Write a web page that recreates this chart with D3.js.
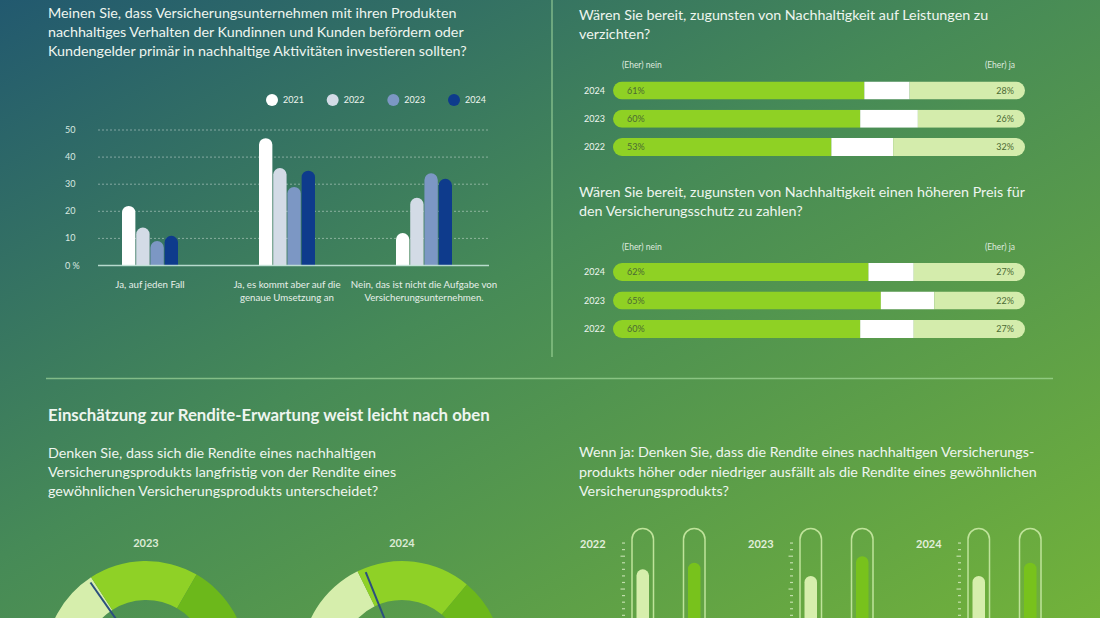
<!DOCTYPE html>
<html><head><meta charset="utf-8">
<script src="https://cdn.jsdelivr.net/npm/d3@7"></script>
<style>html,body{margin:0;padding:0;background:#3d7d5e;}svg{display:block;}</style>
</head><body>
<svg id="chart" width="1100" height="618"></svg>
<script>
// ---------- DATA ----------
const barCategories = [["Ja, auf jeden Fall"], ["Ja, es kommt aber auf die", "genaue Umsetzung an"], ["Nein, das ist nicht die Aufgabe von", "Versicherungsunternehmen."]];
const barYears = ["2021", "2022", "2023", "2024"];
const values2021 = [22, 47, 12];
const values2022 = [14, 36, 25];
const values2023 = [9, 29, 34];
const values2024 = [11, 35, 32];
const barYTicks = [0, 10, 20, 30, 40, 50];
const barColors = ["#ffffff", "#d3dbe6", "#7c97c4", "#0e3b8c"];

const stackYears = ["2024", "2023", "2022"];
const leistungNein = [61, 60, 53];
const leistungJa = [28, 26, 32];
const preisNein = [62, 65, 60];
const preisJa = [27, 22, 27];

const gaugeYears = ["2023", "2024"];
const gaugePale = [31.7, 35.5];
const gaugeBright = [35.0, 36.7];
const gaugeDark = [33.3, 27.8];
const gaugeNeedle = [30.6, 37.8];

const thermoYears = ["2022", "2023", "2024"];
const thermoPale = [38, 37, 37];
const thermoGreen = [39, 40, 39];

// ---------- SETUP ----------
const svg = d3.select("#chart");
const FONT = "Lato, 'Open Sans', sans-serif";
const BODY = 14.3;
const defs = svg.append("defs");
const bg = defs.append("linearGradient").attr("id", "bg").attr("x1", 0).attr("y1", 0).attr("x2", 1).attr("y2", 1);
bg.append("stop").attr("offset", "0%").attr("stop-color", "#22596f");
bg.append("stop").attr("offset", "45%").attr("stop-color", "#468a57");
bg.append("stop").attr("offset", "100%").attr("stop-color", "#72b23a");
svg.append("rect").attr("width", 1100).attr("height", 618).attr("fill", "url(#bg)");

const textCol = "#eef5ef";
function lines(g, arr, x, y0, lh, size, weight, anchor) {
  arr.forEach((t, i) => g.append("text").attr("x", x).attr("y", y0 + i * lh)
    .attr("font-family", FONT).attr("font-size", size).attr("font-weight", weight || 400)
    .attr("fill", textCol).attr("text-anchor", anchor || "start").text(t));
}

// separators
const sepCol = "rgba(175,228,165,0.6)";
svg.append("line").attr("x1", 552).attr("x2", 552).attr("y1", 0).attr("y2", 357).attr("stroke", sepCol).attr("stroke-width", 1.5);
svg.append("line").attr("x1", 46).attr("x2", 1053).attr("y1", 378.5).attr("y2", 378.5).attr("stroke", sepCol).attr("stroke-width", 1.5);

// ---------- TOP LEFT: grouped bars ----------
const gBar = svg.append("g");
lines(gBar, ["Meinen Sie, dass Versicherungsunternehmen mit ihren Produkten",
  "nachhaltiges Verhalten der Kundinnen und Kunden befördern oder",
  "Kundengelder primär in nachhaltige Aktivitäten investieren sollten?"], 48, 18, 19, BODY);

const legendX = d3.scalePoint().domain(barYears).range([272, 454]);
barYears.forEach((y, i) => {
  gBar.append("circle").attr("cx", legendX(y)).attr("cy", 100).attr("r", 6).attr("fill", barColors[i]);
  gBar.append("text").attr("x", legendX(y) + 11).attr("y", 103).attr("font-family", FONT).attr("font-size", 9)
    .attr("fill", textCol).text(y);
});

const yBar = d3.scaleLinear().domain([0, 50]).range([265.5, 130]);
barYTicks.forEach(t => {
  if (t > 0) gBar.append("line").attr("x1", 98).attr("x2", 489).attr("y1", yBar(t)).attr("y2", yBar(t))
    .attr("stroke", "rgba(255,255,255,0.4)").attr("stroke-dasharray", "2,2").attr("stroke-width", 1);
  gBar.append("text").attr("x", 65).attr("y", yBar(t) + 3).attr("font-family", FONT).attr("font-size", 9)
    .attr("fill", "#d9e8e0").text(t === 0 ? "0 %" : t);
});

const x0 = d3.scaleBand().domain(d3.range(barCategories.length)).range([81.5, 492.5]);
const x1 = d3.scaleBand().domain(barYears).range([0, 56]).paddingInner(0.06);
const seriesVals = [values2021, values2022, values2023, values2024];
function roundTopBar(x, w, yTop, yBase) {
  const r = w / 2;
  const top = Math.min(yTop + r, yBase);
  return `M${x},${yBase}V${top}A${r},${r} 0 0 1 ${x + w},${top}V${yBase}Z`;
}
barCategories.forEach((cat, ci) => {
  const cx = x0(ci) + x0.bandwidth() / 2;
  barYears.forEach((yr, yi) => {
    const bx = cx - 28 + x1(yr);
    gBar.append("path").attr("d", roundTopBar(bx, x1.bandwidth(), yBar(seriesVals[yi][ci]), yBar(0)))
      .attr("fill", barColors[yi]);
  });
  cat.forEach((t, li) => gBar.append("text").attr("x", cx).attr("y", 287.5 + li * 13.5).attr("text-anchor", "middle")
    .attr("font-family", FONT).attr("font-size", 9.7).attr("fill", "#e6efe9").text(t));
});
gBar.append("line").attr("x1", 98).attr("x2", 489).attr("y1", yBar(0)).attr("y2", yBar(0))
  .attr("stroke", "rgba(205,235,225,0.85)").attr("stroke-width", 1.5);

// ---------- TOP RIGHT: stacked pill bars ----------
const xStack = d3.scaleLinear().domain([0, 100]).range([613, 1025]);
const stackCols = ["#8fd124", "#ffffff", "#d4ecac"];
function stackBlock(title, titleY, headY, rowRange, nein, ja, idp) {
  const g = svg.append("g");
  lines(g, title, 579, titleY, 19, BODY);
  g.append("text").attr("x", 622).attr("y", headY).attr("font-family", FONT).attr("font-size", 8.5)
    .attr("fill", "#dfe9df").text("(Eher) nein");
  g.append("text").attr("x", 1015).attr("y", headY).attr("text-anchor", "end").attr("font-family", FONT)
    .attr("font-size", 8.5).attr("fill", "#dfe9df").text("(Eher) ja");
  const yRow = d3.scalePoint().domain(stackYears).range(rowRange);
  const h = 18;
  stackYears.forEach((yr, i) => {
    const cy = yRow(yr);
    const cid = idp + i;
    defs.append("clipPath").attr("id", cid).append("rect").attr("x", xStack(0)).attr("y", cy - h / 2)
      .attr("width", xStack(100) - xStack(0)).attr("height", h).attr("rx", h / 2);
    const segs = [nein[i], 100 - nein[i] - ja[i], ja[i]];
    let acc = 0;
    const rg = g.append("g").attr("clip-path", `url(#${cid})`);
    segs.forEach((v, si) => {
      rg.append("rect").attr("x", xStack(acc)).attr("y", cy - h / 2).attr("width", xStack(acc + v) - xStack(acc))
        .attr("height", h).attr("fill", stackCols[si]);
      acc += v;
    });
    g.append("text").attr("x", 584).attr("y", cy + 3).attr("font-family", FONT).attr("font-size", 9)
      .attr("fill", textCol).text(yr);
    g.append("text").attr("x", 627).attr("y", cy + 3).attr("font-family", FONT).attr("font-size", 9)
      .attr("fill", "#4b6a33").text(nein[i] + "%");
    g.append("text").attr("x", 1014).attr("y", cy + 3).attr("text-anchor", "end").attr("font-family", FONT)
      .attr("font-size", 9).attr("fill", "#4b6a33").text(ja[i] + "%");
  });
}
stackBlock(["Wären Sie bereit, zugunsten von Nachhaltigkeit auf Leistungen zu", "verzichten?"], 20, 68, [90.5, 147], leistungNein, leistungJa, "clipA");
stackBlock(["Wären Sie bereit, zugunsten von Nachhaltigkeit einen höheren Preis für", "den Versicherungsschutz zu zahlen?"], 197, 250, [272, 329], preisNein, preisJa, "clipB");

// ---------- BOTTOM LEFT: gauges ----------
const gG = svg.append("g");
gG.append("text").attr("x", 48).attr("y", 421).attr("font-family", FONT).attr("font-size", 16.8)
  .attr("font-weight", 700).attr("fill", textCol).text("Einschätzung zur Rendite-Erwartung weist leicht nach oben");
lines(gG, ["Denken Sie, dass sich die Rendite eines nachhaltigen",
  "Versicherungsprodukts langfristig von der Rendite eines",
  "gewöhnlichen Versicherungsprodukts unterscheidet?"], 48, 458, 19, BODY);

const gaugeX = d3.scalePoint().domain(gaugeYears).range([146, 402]);
const gaugeCols = ["#d6eeac", "#8fd126", "#6cb81b"];
const pie = d3.pie().sort(null).startAngle(-Math.PI / 2).endAngle(Math.PI / 2);
const arc = d3.arc().innerRadius(62).outerRadius(101);
const angleScale = d3.scaleLinear().domain([0, 100]).range([-Math.PI / 2, Math.PI / 2]);
gaugeYears.forEach((yr, i) => {
  const cx = gaugeX(yr), cy = 662;
  gG.append("text").attr("x", cx).attr("y", 547).attr("text-anchor", "middle").attr("font-family", FONT)
    .attr("font-size", 11).attr("font-weight", 700).attr("fill", "#dcebd6").text(yr);
  const g = gG.append("g").attr("transform", `translate(${cx},${cy})`);
  g.selectAll("path").data(pie([gaugePale[i], gaugeBright[i], gaugeDark[i]])).join("path")
    .attr("d", arc).attr("fill", (d, k) => gaugeCols[k]);
  const a = angleScale(gaugeNeedle[i]);
  g.append("line").attr("x1", 97 * Math.sin(a)).attr("y1", -97 * Math.cos(a))
    .attr("x2", 20 * Math.sin(a)).attr("y2", -20 * Math.cos(a))
    .attr("stroke", "#2c4f7e").attr("stroke-width", 2);
});

// ---------- BOTTOM RIGHT: thermometers ----------
const gT = svg.append("g");
lines(gT, ["Wenn ja: Denken Sie, dass die Rendite eines nachhaltigen Versicherungs-",
  "produkts höher oder niedriger ausfällt als die Rendite eines gewöhnlichen",
  "Versicherungsprodukts?"], 579, 457, 19.5, BODY);
const thermoX = d3.scalePoint().domain(thermoYears).range([580, 916]);
const thermoY = d3.scaleLinear().domain([0, 50]).range([819, 490.5]);
const tubeW = 21.5, fillW = 12.5;
thermoYears.forEach((yr, i) => {
  const x = thermoX(yr);
  gT.append("text").attr("x", x).attr("y", 548).attr("font-family", FONT).attr("font-size", 11)
    .attr("font-weight", 700).attr("fill", "#e2efdc").text(yr);
  d3.range(0, 43).forEach(t => {
    const major = t % 5 === 0;
    gT.append("line").attr("x1", x + (major ? 40.5 : 42)).attr("x2", x + 45).attr("y1", thermoY(t)).attr("y2", thermoY(t))
      .attr("stroke", "rgba(225,242,205,0.75)").attr("stroke-width", 1.2);
  });
  [[52, thermoPale[i], "#d6eeac"], [103.5, thermoGreen[i], "#78c21c"]].forEach(([off, v, col]) => {
    const tx = x + off;
    gT.append("rect").attr("x", tx).attr("y", 528.5).attr("width", tubeW).attr("height", 200).attr("rx", tubeW / 2)
      .attr("fill", "none").attr("stroke", "#bfe39a").attr("stroke-width", 1.5);
    const fx = tx + (tubeW - fillW) / 2;
    gT.append("path").attr("d", roundTopBar(fx, fillW, thermoY(v), 700)).attr("fill", col);
  });
});
</script>
</body></html>
